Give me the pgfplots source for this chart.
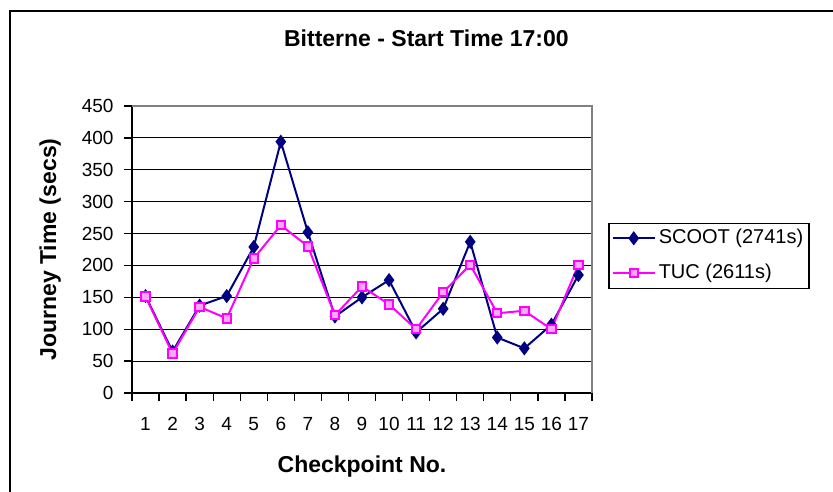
\documentclass[border=0pt]{standalone}
\usepackage{pgfplots}
\pgfplotsset{compat=1.18}
\usepackage{fontspec}
\setmainfont{Liberation Sans}
\definecolor{scoot}{HTML}{000080}
\definecolor{tuc}{HTML}{FF00FF}
\begin{document}
\begin{tikzpicture}[x=1pt,y=1pt]
\useasboundingbox (0,0) rectangle (833,491);
\draw[line width=1.5pt] (10,-10) rectangle (845,480);
\begin{axis}[
  at={(132pt,98pt)}, anchor=south west,
  scale only axis, width=460pt, height=287pt,
  xmin=0.5, xmax=17.5, ymin=0, ymax=450,
  xtick={1,2,...,17},
  x tick style={draw=none},
  extra x ticks={0.5,1.5,...,17.5},
  extra x tick labels={},
  extra x tick style={x tick style={draw=black, line width=1.3pt}},
  xticklabel style={yshift=-13pt},
  ytick={0,50,...,450},
  axis x line*=bottom, axis y line*=left,
  axis line style={line width=1.7pt, -},
  ymajorgrids, grid style={black, line width=1.1pt},
  tick align=outside,
  major tick length=8pt,
  y tick style={black, line width=1.3pt},
  tick label style={font=\fontsize{19}{19}\selectfont},
  yticklabel style={xshift=-7pt},
  /pgf/number format/assume math mode=true,
  title={\bfseries Bitterne - Start Time 17:00},
  title style={at={(rel axis cs:0.640,1)}, anchor=base, yshift=54pt, font=\fontsize{23}{23}\selectfont},
  xlabel={\bfseries Checkpoint No.},
  xlabel style={at={(rel axis cs:0.5,0)}, anchor=base, yshift=-79pt, font=\fontsize{23}{23}\selectfont},
  ylabel={\bfseries Journey Time (secs)},
  ylabel style={at={(rel axis cs:-0.1652,0.5)}, anchor=base, font=\fontsize{23}{23}\selectfont},
  legend style={at={(rel axis cs:1.0348,0.594)}, anchor=north west, draw=black, line width=1.5pt,
    font=\fontsize{20}{20}\selectfont, row sep=11pt, inner sep=3pt,
    nodes={inner sep=3pt, text height=14pt, text depth=4pt}},
  legend cell align=left,
  legend image code/.code={\draw[mark repeat=2,mark phase=2,#1] plot coordinates {(0pt,0pt) (21pt,0pt) (42pt,0pt)};},
  after end axis/.code={\draw[gray, line width=1.6pt] (rel axis cs:0,1) -- (rel axis cs:1,1) -- (rel axis cs:1,0);},
]
\addplot[scoot, line width=2pt, mark=diamond*, mark size=5.5pt, mark options={solid, fill=scoot}] coordinates {
(1,152) (2,65) (3,137) (4,152) (5,229) (6,394) (7,252) (8,120) (9,150) (10,177) (11,95) (12,132) (13,237) (14,87) (15,70) (16,107) (17,185)
};
\addlegendentry{SCOOT (2741s)\hspace{9pt}}
\addplot[tuc, line width=2pt, mark=square*, mark size=4.2pt, mark options={solid, fill=tuc!35}] coordinates {
(1,151) (2,62) (3,135) (4,117) (5,211) (6,263) (7,230) (8,122) (9,167) (10,139) (11,100) (12,158) (13,201) (14,125) (15,129) (16,100) (17,201)
};
\addlegendentry{TUC (2611s)}
\end{axis}
\end{tikzpicture}
\end{document}
